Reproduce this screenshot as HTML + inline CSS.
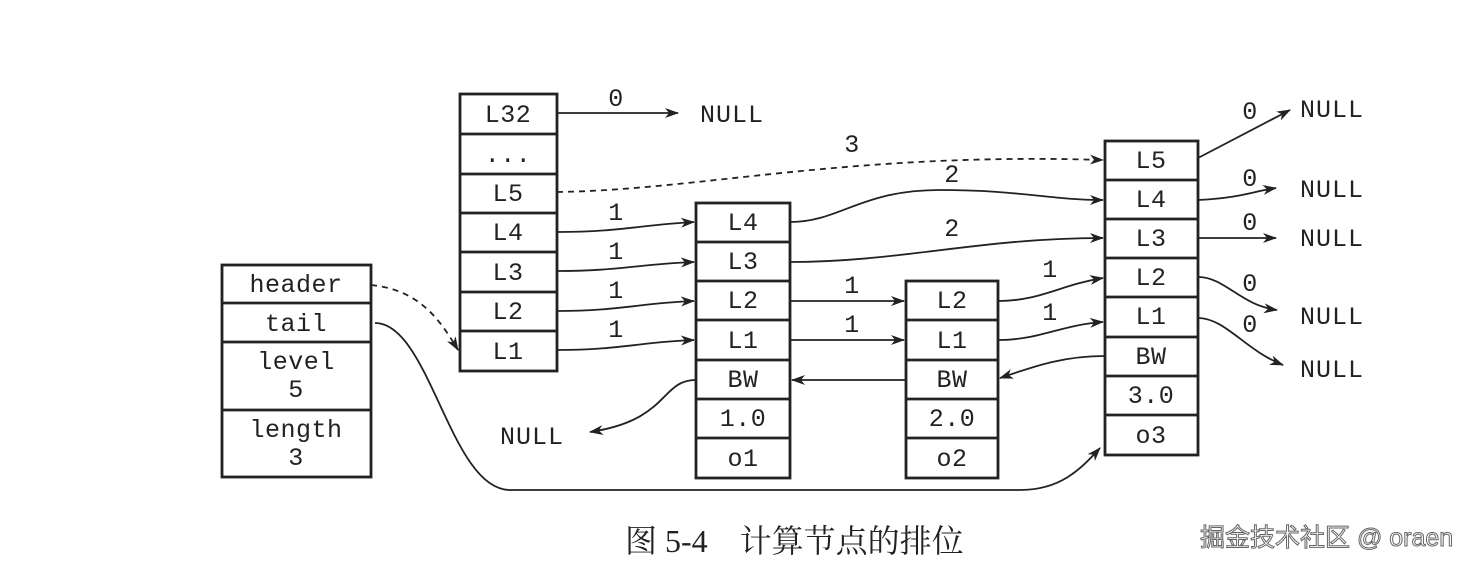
<!DOCTYPE html>
<html><head><meta charset="utf-8"><style>
html,body{margin:0;padding:0;background:#fff;}
svg{display:block;}
.t{font-family:"Liberation Mono",monospace;font-size:25px;letter-spacing:0.5px;fill:#222;text-anchor:middle;}
.l{font-family:"Liberation Mono",monospace;font-size:25px;letter-spacing:1px;fill:#222;}
</style></head><body>
<svg width="1469" height="568" viewBox="0 0 1469 568" xmlns="http://www.w3.org/2000/svg">
<defs><marker id="a" markerWidth="14" markerHeight="10" refX="13" refY="5" orient="auto" markerUnits="userSpaceOnUse"><path d="M0,0 L14,5 L0,10 L4,5 Z" fill="#222"/></marker></defs>
<g fill="#fff" stroke="#222" stroke-width="2.8">
<rect x="222" y="265" width="149" height="212"/>
<line x1="222" y1="303" x2="371" y2="303"/><line x1="222" y1="342" x2="371" y2="342"/><line x1="222" y1="410" x2="371" y2="410"/>
<rect x="460" y="94" width="97" height="277"/>
<line x1="460" y1="134" x2="557" y2="134"/><line x1="460" y1="174" x2="557" y2="174"/><line x1="460" y1="213" x2="557" y2="213"/><line x1="460" y1="252" x2="557" y2="252"/><line x1="460" y1="292" x2="557" y2="292"/><line x1="460" y1="331" x2="557" y2="331"/>
<rect x="696" y="203" width="94" height="275"/>
<line x1="696" y1="242" x2="790" y2="242"/><line x1="696" y1="281" x2="790" y2="281"/><line x1="696" y1="320" x2="790" y2="320"/><line x1="696" y1="360" x2="790" y2="360"/><line x1="696" y1="399" x2="790" y2="399"/><line x1="696" y1="438" x2="790" y2="438"/>
<rect x="906" y="281" width="92" height="197"/>
<line x1="906" y1="320" x2="998" y2="320"/><line x1="906" y1="360" x2="998" y2="360"/><line x1="906" y1="399" x2="998" y2="399"/><line x1="906" y1="438" x2="998" y2="438"/>
<rect x="1105" y="141" width="93" height="314"/>
<line x1="1105" y1="180" x2="1198" y2="180"/><line x1="1105" y1="219" x2="1198" y2="219"/><line x1="1105" y1="258" x2="1198" y2="258"/><line x1="1105" y1="297" x2="1198" y2="297"/><line x1="1105" y1="337" x2="1198" y2="337"/><line x1="1105" y1="376" x2="1198" y2="376"/><line x1="1105" y1="415" x2="1198" y2="415"/>
</g>
<g class="t">
<text x="296" y="292">header</text><text x="296" y="331">tail</text><text x="296" y="369">level</text><text x="296" y="397">5</text><text x="296" y="437">length</text><text x="296" y="465">3</text>
<text x="508" y="122">L32</text><text x="508" y="162">...</text><text x="508" y="201">L5</text><text x="508" y="240">L4</text><text x="508" y="280">L3</text><text x="508" y="319">L2</text><text x="508" y="359">L1</text>
<text x="743" y="230">L4</text><text x="743" y="269">L3</text><text x="743" y="308">L2</text><text x="743" y="348">L1</text><text x="743" y="387">BW</text><text x="743" y="426">1.0</text><text x="743" y="466">o1</text>
<text x="952" y="308">L2</text><text x="952" y="348">L1</text><text x="952" y="387">BW</text><text x="952" y="426">2.0</text><text x="952" y="466">o2</text>
<text x="1151" y="168">L5</text><text x="1151" y="207">L4</text><text x="1151" y="246">L3</text><text x="1151" y="285">L2</text><text x="1151" y="324">L1</text><text x="1151" y="364">BW</text><text x="1151" y="403">3.0</text><text x="1151" y="443">o3</text>
</g>
<g class="t">
<text x="616" y="106">0</text><text x="852" y="152">3</text>
<text x="616" y="220">1</text><text x="616" y="259">1</text><text x="616" y="298">1</text><text x="616" y="337">1</text>
<text x="952" y="182">2</text><text x="952" y="236">2</text>
<text x="852" y="293">1</text><text x="852" y="332">1</text>
<text x="1050" y="277">1</text><text x="1050" y="320">1</text>
<text x="1250" y="119">0</text><text x="1250" y="186">0</text><text x="1250" y="230">0</text><text x="1250" y="291">0</text><text x="1250" y="332">0</text>
</g>
<g class="l">
<text x="700" y="122">NULL</text><text x="500" y="444">NULL</text>
<text x="1300" y="117">NULL</text><text x="1300" y="197">NULL</text><text x="1300" y="246">NULL</text><text x="1300" y="324">NULL</text><text x="1300" y="377">NULL</text>
</g>
<g fill="none" stroke="#222" stroke-width="1.8" marker-end="url(#a)">
<path d="M557,113 L678,113"/>
<path d="M557,192 C700,190 850,152 1103,160" stroke-dasharray="6,5"/>
<path d="M371,285 C420,290 440,320 458,350" stroke-dasharray="6,5"/>
<path d="M557,232 C620,232 640,225 694,222"/>
<path d="M557,271 C620,271 640,264 694,262"/>
<path d="M557,311 C620,311 640,303 694,301"/>
<path d="M557,350 C620,350 640,342 694,340"/>
<path d="M790,222 C840,222 860,190 940,190 C1020,190 1050,200 1103,200"/>
<path d="M790,262 C900,262 980,238 1103,238"/>
<path d="M790,301 L904,301"/>
<path d="M790,340 L904,340"/>
<path d="M998,301 C1040,301 1060,285 1103,278"/>
<path d="M998,340 C1040,340 1060,325 1103,322"/>
<path d="M1105,356 C1060,356 1030,368 1000,378"/>
<path d="M906,380 L792,380"/>
<path d="M696,380 C660,380 670,420 590,432"/>
<path d="M1198,158 L1290,110"/>
<path d="M1198,200 C1240,198 1250,192 1276,188"/>
<path d="M1198,238 L1276,238"/>
<path d="M1198,277 C1225,277 1240,305 1277,310"/>
<path d="M1198,318 C1225,318 1245,350 1283,365"/>
<path d="M375,323 C430,323 450,490 510,490 L1020,490 C1060,490 1080,470 1100,448"/>
</g>
<text x="625" y="552" style="font-family:'Liberation Serif','Noto Serif CJK SC',serif;font-size:32px;fill:#222">图 5-4　计算节点的排位</text>
<text x="1200" y="546" style="font-family:'Liberation Sans','Noto Sans CJK SC',sans-serif;font-size:25px;fill:#fff;stroke:#666;stroke-width:1">掘金技术社区 @ oraen</text>
</svg>
</body></html>
